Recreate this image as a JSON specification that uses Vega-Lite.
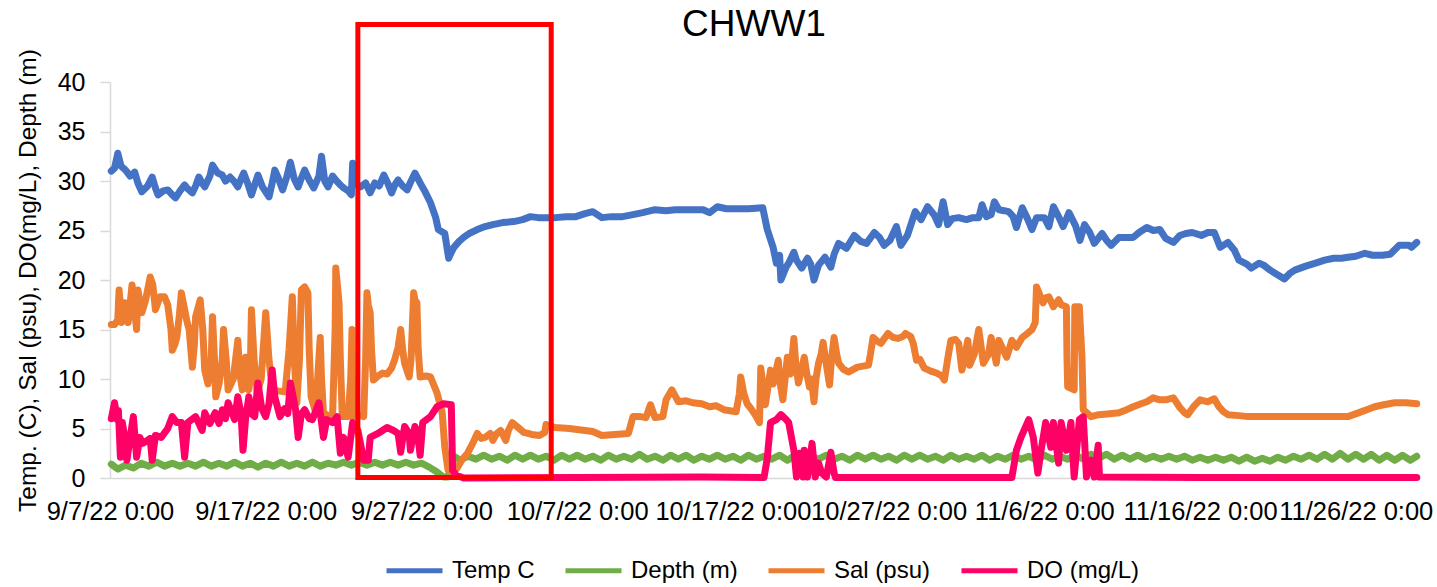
{
"$schema": "https://vega.github.io/schema/vega-lite/v6.json",
"width": 1310,
"height": 396,
"autosize": {"type": "none"},
"padding": {"left": 110, "top": 82, "right": 17, "bottom": 109},
"background": "white",
"config": {"view": {"stroke": null}, "font": "Liberation Sans"},
"title": {"text": "CHWW1", "fontSize": 37, "font": "Liberation Sans", "fontWeight": "normal", "color": "#000000", "anchor": "middle", "frame": "group", "baseline": "alphabetic", "offset": -51, "dx": -11},
"datasets": {
"temp": [
{"t":"2022-09-07T02:00","v":31.0},{"t":"2022-09-07T07:00","v":31.3},{"t":"2022-09-07T12:00","v":32.8},{"t":"2022-09-07T17:00","v":31.5},{"t":"2022-09-08T00:00","v":31.1},{"t":"2022-09-08T07:00","v":30.5},{"t":"2022-09-08T14:00","v":30.9},{"t":"2022-09-08T19:00","v":29.8},{"t":"2022-09-09T01:00","v":28.9},{"t":"2022-09-09T10:00","v":29.5},{"t":"2022-09-09T17:00","v":30.4},{"t":"2022-09-09T22:00","v":29.3},{"t":"2022-09-10T02:00","v":28.6},{"t":"2022-09-10T10:00","v":29.0},{"t":"2022-09-10T17:00","v":29.1},{"t":"2022-09-11T00:00","v":28.6},{"t":"2022-09-11T05:00","v":28.3},{"t":"2022-09-11T12:00","v":29.0},{"t":"2022-09-11T19:00","v":29.6},{"t":"2022-09-12T00:00","v":29.2},{"t":"2022-09-12T07:00","v":28.8},{"t":"2022-09-12T12:00","v":29.5},{"t":"2022-09-12T17:00","v":30.4},{"t":"2022-09-12T22:00","v":29.8},{"t":"2022-09-13T02:00","v":29.4},{"t":"2022-09-13T10:00","v":30.5},{"t":"2022-09-13T14:00","v":31.6},{"t":"2022-09-13T22:00","v":30.8},{"t":"2022-09-14T05:00","v":30.6},{"t":"2022-09-14T10:00","v":30.0},{"t":"2022-09-14T17:00","v":30.4},{"t":"2022-09-15T00:00","v":29.9},{"t":"2022-09-15T05:00","v":29.4},{"t":"2022-09-15T10:00","v":30.2},{"t":"2022-09-15T14:00","v":30.8},{"t":"2022-09-15T20:00","v":29.8},{"t":"2022-09-16T02:00","v":28.6},{"t":"2022-09-16T07:00","v":29.6},{"t":"2022-09-16T12:00","v":30.6},{"t":"2022-09-16T19:00","v":29.4},{"t":"2022-09-17T05:00","v":28.4},{"t":"2022-09-17T10:00","v":29.8},{"t":"2022-09-17T14:00","v":31.1},{"t":"2022-09-17T20:00","v":30.2},{"t":"2022-09-18T02:00","v":29.1},{"t":"2022-09-18T08:00","v":30.3},{"t":"2022-09-18T14:00","v":31.9},{"t":"2022-09-18T20:00","v":30.2},{"t":"2022-09-19T02:00","v":29.4},{"t":"2022-09-19T07:00","v":30.3},{"t":"2022-09-19T12:00","v":31.1},{"t":"2022-09-19T19:00","v":30.1},{"t":"2022-09-20T02:00","v":29.3},{"t":"2022-09-20T10:00","v":30.5},{"t":"2022-09-20T14:00","v":32.5},{"t":"2022-09-20T19:00","v":30.0},{"t":"2022-09-21T00:00","v":29.4},{"t":"2022-09-21T07:00","v":30.5},{"t":"2022-09-21T12:00","v":30.1},{"t":"2022-09-21T19:00","v":29.6},{"t":"2022-09-22T00:00","v":29.3},{"t":"2022-09-22T07:00","v":29.0},{"t":"2022-09-22T12:00","v":28.6},{"t":"2022-09-22T14:00","v":31.8},{"t":"2022-09-22T17:00","v":29.8},{"t":"2022-09-23T02:00","v":29.4},{"t":"2022-09-23T10:00","v":29.8},{"t":"2022-09-23T17:00","v":28.8},{"t":"2022-09-24T00:00","v":29.8},{"t":"2022-09-24T07:00","v":29.5},{"t":"2022-09-24T14:00","v":30.6},{"t":"2022-09-24T20:00","v":29.8},{"t":"2022-09-25T02:00","v":28.8},{"t":"2022-09-25T07:00","v":29.6},{"t":"2022-09-25T12:00","v":30.1},{"t":"2022-09-25T19:00","v":29.5},{"t":"2022-09-26T02:00","v":29.1},{"t":"2022-09-26T08:00","v":30.0},{"t":"2022-09-26T14:00","v":30.8},{"t":"2022-09-26T22:00","v":29.8},{"t":"2022-09-27T05:00","v":29.0},{"t":"2022-09-27T14:00","v":27.8},{"t":"2022-09-27T22:00","v":26.3},{"t":"2022-09-28T02:00","v":25.1},{"t":"2022-09-28T12:00","v":24.7},{"t":"2022-09-28T16:00","v":23.0},{"t":"2022-09-28T18:00","v":22.2},{"t":"2022-09-28T22:00","v":22.8},{"t":"2022-09-29T02:00","v":23.3},{"t":"2022-09-29T10:00","v":23.9},{"t":"2022-09-29T17:00","v":24.3},{"t":"2022-09-30T02:00","v":24.7},{"t":"2022-09-30T14:00","v":25.1},{"t":"2022-10-01T02:00","v":25.4},{"t":"2022-10-01T14:00","v":25.6},{"t":"2022-10-02T05:00","v":25.8},{"t":"2022-10-02T22:00","v":25.9},{"t":"2022-10-03T12:00","v":26.1},{"t":"2022-10-04T00:00","v":26.4},{"t":"2022-10-04T12:00","v":26.3},{"t":"2022-10-05T14:00","v":26.3},{"t":"2022-10-06T07:00","v":26.4},{"t":"2022-10-06T22:00","v":26.4},{"t":"2022-10-07T12:00","v":26.7},{"t":"2022-10-08T00:00","v":26.9},{"t":"2022-10-08T14:00","v":26.3},{"t":"2022-10-09T05:00","v":26.4},{"t":"2022-10-09T22:00","v":26.4},{"t":"2022-10-10T14:00","v":26.6},{"t":"2022-10-11T05:00","v":26.8},{"t":"2022-10-12T00:00","v":27.1},{"t":"2022-10-12T17:00","v":27.0},{"t":"2022-10-13T07:00","v":27.1},{"t":"2022-10-14T05:00","v":27.1},{"t":"2022-10-15T02:00","v":27.1},{"t":"2022-10-15T12:00","v":26.8},{"t":"2022-10-16T00:00","v":27.4},{"t":"2022-10-16T14:00","v":27.2},{"t":"2022-10-17T05:00","v":27.2},{"t":"2022-10-18T00:00","v":27.2},{"t":"2022-10-18T22:00","v":27.3},{"t":"2022-10-19T05:00","v":25.1},{"t":"2022-10-19T14:00","v":23.3},{"t":"2022-10-19T19:00","v":21.7},{"t":"2022-10-20T00:00","v":22.5},{"t":"2022-10-20T02:00","v":20.0},{"t":"2022-10-20T10:00","v":21.3},{"t":"2022-10-20T14:00","v":21.7},{"t":"2022-10-20T22:00","v":22.8},{"t":"2022-10-21T02:00","v":22.0},{"t":"2022-10-21T10:00","v":21.2},{"t":"2022-10-21T19:00","v":22.2},{"t":"2022-10-22T00:00","v":21.6},{"t":"2022-10-22T05:00","v":20.0},{"t":"2022-10-22T12:00","v":21.5},{"t":"2022-10-22T22:00","v":22.3},{"t":"2022-10-23T07:00","v":21.3},{"t":"2022-10-23T12:00","v":22.6},{"t":"2022-10-23T19:00","v":23.7},{"t":"2022-10-24T07:00","v":23.2},{"t":"2022-10-24T19:00","v":24.5},{"t":"2022-10-25T05:00","v":23.9},{"t":"2022-10-25T14:00","v":23.7},{"t":"2022-10-26T02:00","v":24.8},{"t":"2022-10-26T10:00","v":24.3},{"t":"2022-10-26T17:00","v":23.5},{"t":"2022-10-27T02:00","v":24.0},{"t":"2022-10-27T12:00","v":25.4},{"t":"2022-10-27T19:00","v":23.5},{"t":"2022-10-28T05:00","v":24.5},{"t":"2022-10-28T17:00","v":26.9},{"t":"2022-10-29T02:00","v":26.1},{"t":"2022-10-29T12:00","v":27.4},{"t":"2022-10-29T22:00","v":26.6},{"t":"2022-10-30T05:00","v":25.6},{"t":"2022-10-30T12:00","v":27.9},{"t":"2022-10-30T19:00","v":25.6},{"t":"2022-10-31T02:00","v":26.2},{"t":"2022-10-31T12:00","v":26.3},{"t":"2022-11-01T00:00","v":26.1},{"t":"2022-11-01T10:00","v":26.3},{"t":"2022-11-01T19:00","v":26.3},{"t":"2022-11-02T00:00","v":27.6},{"t":"2022-11-02T07:00","v":26.4},{"t":"2022-11-02T14:00","v":26.6},{"t":"2022-11-02T19:00","v":27.9},{"t":"2022-11-03T02:00","v":27.1},{"t":"2022-11-03T10:00","v":27.0},{"t":"2022-11-03T17:00","v":26.9},{"t":"2022-11-04T00:00","v":26.4},{"t":"2022-11-04T05:00","v":25.3},{"t":"2022-11-04T14:00","v":27.3},{"t":"2022-11-04T22:00","v":26.2},{"t":"2022-11-05T05:00","v":25.1},{"t":"2022-11-05T12:00","v":26.3},{"t":"2022-11-06T00:00","v":26.3},{"t":"2022-11-06T07:00","v":25.4},{"t":"2022-11-06T14:00","v":27.4},{"t":"2022-11-06T22:00","v":26.4},{"t":"2022-11-07T05:00","v":25.4},{"t":"2022-11-07T14:00","v":26.8},{"t":"2022-11-08T00:00","v":25.5},{"t":"2022-11-08T07:00","v":24.0},{"t":"2022-11-08T14:00","v":25.6},{"t":"2022-11-08T22:00","v":24.8},{"t":"2022-11-09T05:00","v":23.7},{"t":"2022-11-09T17:00","v":24.7},{"t":"2022-11-10T00:00","v":24.0},{"t":"2022-11-10T07:00","v":23.5},{"t":"2022-11-10T19:00","v":24.3},{"t":"2022-11-11T05:00","v":24.3},{"t":"2022-11-11T17:00","v":24.3},{"t":"2022-11-12T02:00","v":24.8},{"t":"2022-11-12T14:00","v":25.3},{"t":"2022-11-13T00:00","v":25.0},{"t":"2022-11-13T10:00","v":25.1},{"t":"2022-11-13T19:00","v":24.2},{"t":"2022-11-14T07:00","v":23.8},{"t":"2022-11-14T17:00","v":24.5},{"t":"2022-11-15T02:00","v":24.7},{"t":"2022-11-15T12:00","v":24.8},{"t":"2022-11-16T02:00","v":24.5},{"t":"2022-11-16T12:00","v":24.8},{"t":"2022-11-16T22:00","v":24.8},{"t":"2022-11-17T07:00","v":23.3},{"t":"2022-11-17T19:00","v":23.8},{"t":"2022-11-18T05:00","v":23.0},{"t":"2022-11-18T12:00","v":22.0},{"t":"2022-11-19T00:00","v":21.6},{"t":"2022-11-19T07:00","v":21.2},{"t":"2022-11-19T19:00","v":21.7},{"t":"2022-11-20T02:00","v":21.5},{"t":"2022-11-20T12:00","v":21.0},{"t":"2022-11-21T00:00","v":20.5},{"t":"2022-11-21T10:00","v":20.1},{"t":"2022-11-21T19:00","v":20.7},{"t":"2022-11-22T02:00","v":21.0},{"t":"2022-11-22T19:00","v":21.4},{"t":"2022-11-23T10:00","v":21.7},{"t":"2022-11-24T00:00","v":22.0},{"t":"2022-11-24T14:00","v":22.2},{"t":"2022-11-25T02:00","v":22.2},{"t":"2022-11-25T12:00","v":22.3},{"t":"2022-11-26T00:00","v":22.4},{"t":"2022-11-26T14:00","v":22.7},{"t":"2022-11-27T02:00","v":22.5},{"t":"2022-11-27T17:00","v":22.5},{"t":"2022-11-28T05:00","v":22.6},{"t":"2022-11-28T19:00","v":23.5},{"t":"2022-11-29T10:00","v":23.5},{"t":"2022-11-29T14:00","v":23.3},{"t":"2022-11-29T22:00","v":23.8}
],
"depth": [
{"t":"2022-09-07T02:00","v":1.4},{"t":"2022-09-07T12:00","v":0.9},{"t":"2022-09-08T00:00","v":1.3},{"t":"2022-09-08T12:00","v":1.0},{"t":"2022-09-09T00:00","v":1.5},{"t":"2022-09-09T12:00","v":1.2},{"t":"2022-09-10T00:00","v":1.6},{"t":"2022-09-10T12:00","v":1.2},{"t":"2022-09-11T00:00","v":1.5},{"t":"2022-09-11T12:00","v":1.2},{"t":"2022-09-12T00:00","v":1.5},{"t":"2022-09-12T12:00","v":1.2},{"t":"2022-09-13T00:00","v":1.6},{"t":"2022-09-13T12:00","v":1.2},{"t":"2022-09-14T00:00","v":1.5},{"t":"2022-09-14T12:00","v":1.2},{"t":"2022-09-15T00:00","v":1.6},{"t":"2022-09-15T12:00","v":1.2},{"t":"2022-09-16T00:00","v":1.5},{"t":"2022-09-16T12:00","v":1.1},{"t":"2022-09-17T00:00","v":1.5},{"t":"2022-09-17T12:00","v":1.2},{"t":"2022-09-18T00:00","v":1.6},{"t":"2022-09-18T12:00","v":1.2},{"t":"2022-09-19T00:00","v":1.5},{"t":"2022-09-19T12:00","v":1.2},{"t":"2022-09-20T00:00","v":1.6},{"t":"2022-09-20T12:00","v":1.2},{"t":"2022-09-21T00:00","v":1.5},{"t":"2022-09-21T12:00","v":1.3},{"t":"2022-09-22T00:00","v":1.6},{"t":"2022-09-22T12:00","v":1.3},{"t":"2022-09-23T00:00","v":1.6},{"t":"2022-09-23T12:00","v":1.3},{"t":"2022-09-24T00:00","v":1.6},{"t":"2022-09-24T12:00","v":1.3},{"t":"2022-09-25T00:00","v":1.6},{"t":"2022-09-25T12:00","v":1.3},{"t":"2022-09-26T00:00","v":1.6},{"t":"2022-09-26T12:00","v":1.3},{"t":"2022-09-27T00:00","v":1.5},{"t":"2022-09-27T12:00","v":1.1},{"t":"2022-09-28T00:00","v":0.6},{"t":"2022-09-28T10:00","v":0.1},{"t":"2022-09-28T17:00","v":0.1},{"t":"2022-09-29T02:00","v":2.2},{"t":"2022-09-29T12:00","v":1.8},{"t":"2022-09-30T00:00","v":2.2},{"t":"2022-09-30T12:00","v":1.9},{"t":"2022-10-01T00:00","v":2.3},{"t":"2022-10-01T12:00","v":1.9},{"t":"2022-10-02T00:00","v":2.2},{"t":"2022-10-02T12:00","v":1.8},{"t":"2022-10-03T00:00","v":2.3},{"t":"2022-10-03T12:00","v":1.9},{"t":"2022-10-04T00:00","v":2.3},{"t":"2022-10-04T12:00","v":1.9},{"t":"2022-10-05T00:00","v":2.2},{"t":"2022-10-05T12:00","v":1.8},{"t":"2022-10-06T00:00","v":2.3},{"t":"2022-10-06T12:00","v":1.9},{"t":"2022-10-07T00:00","v":2.3},{"t":"2022-10-07T12:00","v":1.9},{"t":"2022-10-08T00:00","v":2.2},{"t":"2022-10-08T12:00","v":1.8},{"t":"2022-10-09T00:00","v":2.3},{"t":"2022-10-09T12:00","v":1.9},{"t":"2022-10-10T00:00","v":2.2},{"t":"2022-10-10T12:00","v":1.9},{"t":"2022-10-11T00:00","v":2.4},{"t":"2022-10-11T12:00","v":1.9},{"t":"2022-10-12T00:00","v":2.2},{"t":"2022-10-12T12:00","v":1.8},{"t":"2022-10-13T00:00","v":2.3},{"t":"2022-10-13T12:00","v":1.9},{"t":"2022-10-14T00:00","v":2.3},{"t":"2022-10-14T12:00","v":1.8},{"t":"2022-10-15T00:00","v":2.2},{"t":"2022-10-15T12:00","v":1.9},{"t":"2022-10-16T00:00","v":2.3},{"t":"2022-10-16T12:00","v":1.9},{"t":"2022-10-17T00:00","v":2.2},{"t":"2022-10-17T12:00","v":1.8},{"t":"2022-10-18T00:00","v":2.3},{"t":"2022-10-18T12:00","v":1.9},{"t":"2022-10-19T00:00","v":2.2},{"t":"2022-10-19T12:00","v":1.9},{"t":"2022-10-20T00:00","v":2.3},{"t":"2022-10-20T12:00","v":1.8},{"t":"2022-10-21T00:00","v":2.3},{"t":"2022-10-21T12:00","v":1.9},{"t":"2022-10-22T00:00","v":2.2},{"t":"2022-10-22T12:00","v":1.9},{"t":"2022-10-23T00:00","v":2.3},{"t":"2022-10-23T12:00","v":1.9},{"t":"2022-10-24T00:00","v":2.2},{"t":"2022-10-24T12:00","v":1.8},{"t":"2022-10-25T00:00","v":2.3},{"t":"2022-10-25T12:00","v":1.9},{"t":"2022-10-26T00:00","v":2.3},{"t":"2022-10-26T12:00","v":1.9},{"t":"2022-10-27T00:00","v":2.2},{"t":"2022-10-27T12:00","v":1.8},{"t":"2022-10-28T00:00","v":2.3},{"t":"2022-10-28T12:00","v":1.9},{"t":"2022-10-29T00:00","v":2.3},{"t":"2022-10-29T12:00","v":1.9},{"t":"2022-10-30T00:00","v":2.2},{"t":"2022-10-30T12:00","v":1.8},{"t":"2022-10-31T00:00","v":2.3},{"t":"2022-10-31T12:00","v":1.9},{"t":"2022-11-01T00:00","v":2.2},{"t":"2022-11-01T12:00","v":1.9},{"t":"2022-11-02T00:00","v":2.3},{"t":"2022-11-02T12:00","v":1.8},{"t":"2022-11-03T00:00","v":2.2},{"t":"2022-11-03T12:00","v":1.9},{"t":"2022-11-04T00:00","v":2.3},{"t":"2022-11-04T12:00","v":1.9},{"t":"2022-11-05T00:00","v":2.2},{"t":"2022-11-05T12:00","v":1.8},{"t":"2022-11-06T00:00","v":2.3},{"t":"2022-11-06T12:00","v":1.9},{"t":"2022-11-07T00:00","v":2.2},{"t":"2022-11-07T12:00","v":1.9},{"t":"2022-11-08T00:00","v":2.3},{"t":"2022-11-08T12:00","v":1.9},{"t":"2022-11-09T00:00","v":2.4},{"t":"2022-11-09T12:00","v":2.0},{"t":"2022-11-10T00:00","v":2.4},{"t":"2022-11-10T12:00","v":1.9},{"t":"2022-11-11T00:00","v":2.3},{"t":"2022-11-11T12:00","v":1.9},{"t":"2022-11-12T00:00","v":2.3},{"t":"2022-11-12T12:00","v":1.9},{"t":"2022-11-13T00:00","v":2.2},{"t":"2022-11-13T12:00","v":1.9},{"t":"2022-11-14T00:00","v":2.2},{"t":"2022-11-14T12:00","v":1.9},{"t":"2022-11-15T00:00","v":2.2},{"t":"2022-11-15T12:00","v":1.8},{"t":"2022-11-16T00:00","v":2.1},{"t":"2022-11-16T12:00","v":1.8},{"t":"2022-11-17T00:00","v":2.1},{"t":"2022-11-17T12:00","v":1.8},{"t":"2022-11-18T00:00","v":2.1},{"t":"2022-11-18T12:00","v":1.7},{"t":"2022-11-19T00:00","v":2.1},{"t":"2022-11-19T12:00","v":1.7},{"t":"2022-11-20T00:00","v":2.0},{"t":"2022-11-20T12:00","v":1.7},{"t":"2022-11-21T00:00","v":2.1},{"t":"2022-11-21T12:00","v":1.8},{"t":"2022-11-22T00:00","v":2.2},{"t":"2022-11-22T12:00","v":1.9},{"t":"2022-11-23T00:00","v":2.3},{"t":"2022-11-23T12:00","v":1.9},{"t":"2022-11-24T00:00","v":2.4},{"t":"2022-11-24T12:00","v":1.9},{"t":"2022-11-25T00:00","v":2.5},{"t":"2022-11-25T12:00","v":1.9},{"t":"2022-11-26T00:00","v":2.4},{"t":"2022-11-26T12:00","v":1.9},{"t":"2022-11-27T00:00","v":2.4},{"t":"2022-11-27T12:00","v":1.8},{"t":"2022-11-28T00:00","v":2.3},{"t":"2022-11-28T12:00","v":1.8},{"t":"2022-11-29T00:00","v":2.3},{"t":"2022-11-29T12:00","v":1.8},{"t":"2022-11-29T22:00","v":2.2}
],
"sal": [
{"t":"2022-09-07T02:00","v":15.5},{"t":"2022-09-07T07:00","v":15.5},{"t":"2022-09-07T12:00","v":16.0},{"t":"2022-09-07T14:00","v":19.0},{"t":"2022-09-07T18:00","v":15.7},{"t":"2022-09-07T23:00","v":17.7},{"t":"2022-09-08T04:00","v":15.7},{"t":"2022-09-08T10:00","v":19.5},{"t":"2022-09-08T13:00","v":17.5},{"t":"2022-09-08T17:00","v":15.0},{"t":"2022-09-08T19:00","v":19.0},{"t":"2022-09-09T01:00","v":16.7},{"t":"2022-09-09T07:00","v":18.0},{"t":"2022-09-09T14:00","v":20.3},{"t":"2022-09-09T18:00","v":19.5},{"t":"2022-09-09T22:00","v":17.0},{"t":"2022-09-10T05:00","v":18.3},{"t":"2022-09-10T12:00","v":18.3},{"t":"2022-09-10T17:00","v":17.5},{"t":"2022-09-10T22:00","v":15.0},{"t":"2022-09-11T00:00","v":12.9},{"t":"2022-09-11T04:00","v":13.5},{"t":"2022-09-11T07:00","v":14.2},{"t":"2022-09-11T11:00","v":16.5},{"t":"2022-09-11T14:00","v":18.7},{"t":"2022-09-11T19:00","v":17.0},{"t":"2022-09-11T23:00","v":15.7},{"t":"2022-09-12T02:00","v":15.0},{"t":"2022-09-12T07:00","v":11.2},{"t":"2022-09-12T10:00","v":13.5},{"t":"2022-09-12T12:00","v":16.3},{"t":"2022-09-12T19:00","v":18.0},{"t":"2022-09-12T23:00","v":15.0},{"t":"2022-09-13T02:00","v":10.9},{"t":"2022-09-13T07:00","v":9.5},{"t":"2022-09-13T12:00","v":12.0},{"t":"2022-09-13T14:00","v":16.3},{"t":"2022-09-13T17:00","v":12.0},{"t":"2022-09-13T19:00","v":8.2},{"t":"2022-09-14T00:00","v":9.5},{"t":"2022-09-14T05:00","v":12.0},{"t":"2022-09-14T07:00","v":15.0},{"t":"2022-09-14T11:00","v":12.0},{"t":"2022-09-14T14:00","v":8.9},{"t":"2022-09-14T22:00","v":10.0},{"t":"2022-09-15T05:00","v":13.9},{"t":"2022-09-15T08:00","v":10.5},{"t":"2022-09-15T12:00","v":8.9},{"t":"2022-09-15T17:00","v":12.2},{"t":"2022-09-15T22:00","v":8.9},{"t":"2022-09-16T00:00","v":10.0},{"t":"2022-09-16T02:00","v":17.0},{"t":"2022-09-16T06:00","v":12.0},{"t":"2022-09-16T11:00","v":8.6},{"t":"2022-09-16T17:00","v":10.0},{"t":"2022-09-17T00:00","v":16.7},{"t":"2022-09-17T05:00","v":12.0},{"t":"2022-09-17T10:00","v":8.9},{"t":"2022-09-17T19:00","v":8.8},{"t":"2022-09-18T06:00","v":8.7},{"t":"2022-09-18T12:00","v":13.0},{"t":"2022-09-18T17:00","v":18.3},{"t":"2022-09-18T20:00","v":12.0},{"t":"2022-09-19T00:00","v":7.6},{"t":"2022-09-19T04:00","v":12.0},{"t":"2022-09-19T07:00","v":19.0},{"t":"2022-09-19T12:00","v":19.3},{"t":"2022-09-19T17:00","v":18.7},{"t":"2022-09-19T19:00","v":13.0},{"t":"2022-09-19T22:00","v":8.2},{"t":"2022-09-20T05:00","v":6.6},{"t":"2022-09-20T08:00","v":10.0},{"t":"2022-09-20T12:00","v":14.2},{"t":"2022-09-20T14:00","v":10.0},{"t":"2022-09-20T17:00","v":6.6},{"t":"2022-09-21T00:00","v":6.3},{"t":"2022-09-21T07:00","v":6.2},{"t":"2022-09-21T11:00","v":15.0},{"t":"2022-09-21T12:00","v":21.2},{"t":"2022-09-21T17:00","v":17.7},{"t":"2022-09-21T19:00","v":12.0},{"t":"2022-09-21T22:00","v":6.2},{"t":"2022-09-22T07:00","v":6.2},{"t":"2022-09-22T11:00","v":10.0},{"t":"2022-09-22T13:00","v":15.0},{"t":"2022-09-22T14:00","v":6.2},{"t":"2022-09-23T00:00","v":6.3},{"t":"2022-09-23T07:00","v":6.2},{"t":"2022-09-23T10:00","v":12.0},{"t":"2022-09-23T12:00","v":18.7},{"t":"2022-09-23T14:00","v":17.5},{"t":"2022-09-23T17:00","v":16.7},{"t":"2022-09-23T19:00","v":13.0},{"t":"2022-09-23T22:00","v":9.9},{"t":"2022-09-24T05:00","v":10.3},{"t":"2022-09-24T12:00","v":10.6},{"t":"2022-09-24T19:00","v":10.5},{"t":"2022-09-25T02:00","v":11.1},{"t":"2022-09-25T07:00","v":12.0},{"t":"2022-09-25T12:00","v":13.2},{"t":"2022-09-25T16:00","v":15.0},{"t":"2022-09-25T19:00","v":13.0},{"t":"2022-09-25T22:00","v":11.6},{"t":"2022-09-26T05:00","v":10.2},{"t":"2022-09-26T08:00","v":12.0},{"t":"2022-09-26T12:00","v":18.7},{"t":"2022-09-26T14:00","v":18.0},{"t":"2022-09-26T17:00","v":17.7},{"t":"2022-09-26T19:00","v":13.0},{"t":"2022-09-26T22:00","v":10.2},{"t":"2022-09-27T07:00","v":10.3},{"t":"2022-09-27T14:00","v":10.2},{"t":"2022-09-28T00:00","v":8.6},{"t":"2022-09-28T08:00","v":6.6},{"t":"2022-09-28T12:00","v":3.1},{"t":"2022-09-28T17:00","v":0.8},{"t":"2022-09-29T00:00","v":0.6},{"t":"2022-09-29T07:00","v":1.0},{"t":"2022-09-29T14:00","v":1.8},{"t":"2022-09-29T23:00","v":2.5},{"t":"2022-09-30T07:00","v":3.5},{"t":"2022-09-30T14:00","v":4.5},{"t":"2022-09-30T20:00","v":4.0},{"t":"2022-10-01T02:00","v":4.1},{"t":"2022-10-01T10:00","v":4.5},{"t":"2022-10-01T14:00","v":3.8},{"t":"2022-10-01T20:00","v":4.5},{"t":"2022-10-02T02:00","v":4.8},{"t":"2022-10-02T10:00","v":3.8},{"t":"2022-10-02T14:00","v":4.8},{"t":"2022-10-02T20:00","v":5.6},{"t":"2022-10-03T05:00","v":5.1},{"t":"2022-10-03T14:00","v":4.6},{"t":"2022-10-04T02:00","v":4.4},{"t":"2022-10-04T14:00","v":4.3},{"t":"2022-10-04T22:00","v":4.6},{"t":"2022-10-05T00:00","v":5.4},{"t":"2022-10-05T07:00","v":5.2},{"t":"2022-10-05T14:00","v":5.1},{"t":"2022-10-06T12:00","v":5.0},{"t":"2022-10-07T12:00","v":4.8},{"t":"2022-10-08T00:00","v":4.7},{"t":"2022-10-08T14:00","v":4.3},{"t":"2022-10-09T10:00","v":4.4},{"t":"2022-10-10T07:00","v":4.5},{"t":"2022-10-10T14:00","v":6.2},{"t":"2022-10-11T02:00","v":6.2},{"t":"2022-10-11T10:00","v":6.1},{"t":"2022-10-11T17:00","v":7.4},{"t":"2022-10-12T00:00","v":6.1},{"t":"2022-10-12T12:00","v":6.2},{"t":"2022-10-12T17:00","v":7.9},{"t":"2022-10-13T02:00","v":8.9},{"t":"2022-10-13T12:00","v":7.7},{"t":"2022-10-14T00:00","v":7.8},{"t":"2022-10-14T10:00","v":7.6},{"t":"2022-10-15T00:00","v":7.5},{"t":"2022-10-15T12:00","v":7.2},{"t":"2022-10-15T22:00","v":7.3},{"t":"2022-10-16T10:00","v":6.9},{"t":"2022-10-17T05:00","v":6.7},{"t":"2022-10-17T10:00","v":8.5},{"t":"2022-10-17T12:00","v":10.2},{"t":"2022-10-17T17:00","v":8.5},{"t":"2022-10-17T22:00","v":7.5},{"t":"2022-10-18T05:00","v":6.9},{"t":"2022-10-18T12:00","v":6.2},{"t":"2022-10-18T17:00","v":5.6},{"t":"2022-10-18T19:00","v":11.1},{"t":"2022-10-18T23:00","v":9.0},{"t":"2022-10-19T02:00","v":7.4},{"t":"2022-10-19T10:00","v":10.9},{"t":"2022-10-19T14:00","v":9.5},{"t":"2022-10-19T22:00","v":11.9},{"t":"2022-10-20T01:00","v":9.5},{"t":"2022-10-20T05:00","v":7.9},{"t":"2022-10-20T12:00","v":12.2},{"t":"2022-10-20T17:00","v":10.5},{"t":"2022-10-20T22:00","v":14.1},{"t":"2022-10-21T01:00","v":11.5},{"t":"2022-10-21T05:00","v":9.6},{"t":"2022-10-21T10:00","v":11.0},{"t":"2022-10-21T14:00","v":12.2},{"t":"2022-10-21T18:00","v":10.5},{"t":"2022-10-21T22:00","v":9.2},{"t":"2022-10-22T01:00","v":10.0},{"t":"2022-10-22T05:00","v":7.7},{"t":"2022-10-22T08:00","v":10.0},{"t":"2022-10-22T12:00","v":11.6},{"t":"2022-10-22T16:00","v":12.5},{"t":"2022-10-22T19:00","v":13.7},{"t":"2022-10-23T00:00","v":11.5},{"t":"2022-10-23T05:00","v":9.4},{"t":"2022-10-23T08:00","v":12.0},{"t":"2022-10-23T12:00","v":14.2},{"t":"2022-10-23T16:00","v":12.5},{"t":"2022-10-23T19:00","v":11.6},{"t":"2022-10-24T02:00","v":11.0},{"t":"2022-10-24T10:00","v":10.7},{"t":"2022-10-25T00:00","v":11.2},{"t":"2022-10-25T17:00","v":11.4},{"t":"2022-10-25T20:00","v":12.5},{"t":"2022-10-26T00:00","v":14.2},{"t":"2022-10-26T07:00","v":13.8},{"t":"2022-10-26T12:00","v":13.6},{"t":"2022-10-26T23:00","v":14.6},{"t":"2022-10-27T07:00","v":14.2},{"t":"2022-10-27T14:00","v":14.1},{"t":"2022-10-27T22:00","v":14.3},{"t":"2022-10-28T02:00","v":14.6},{"t":"2022-10-28T10:00","v":14.3},{"t":"2022-10-28T14:00","v":13.6},{"t":"2022-10-28T19:00","v":11.9},{"t":"2022-10-29T00:00","v":12.0},{"t":"2022-10-29T07:00","v":11.1},{"t":"2022-10-29T17:00","v":10.8},{"t":"2022-10-30T02:00","v":10.6},{"t":"2022-10-30T10:00","v":10.3},{"t":"2022-10-30T14:00","v":9.9},{"t":"2022-10-30T19:00","v":12.0},{"t":"2022-10-31T00:00","v":13.9},{"t":"2022-10-31T07:00","v":14.0},{"t":"2022-10-31T12:00","v":13.6},{"t":"2022-10-31T17:00","v":10.9},{"t":"2022-10-31T22:00","v":12.5},{"t":"2022-11-01T02:00","v":13.9},{"t":"2022-11-01T05:00","v":11.4},{"t":"2022-11-01T12:00","v":12.5},{"t":"2022-11-01T19:00","v":15.0},{"t":"2022-11-02T02:00","v":11.6},{"t":"2022-11-02T10:00","v":12.5},{"t":"2022-11-02T14:00","v":14.2},{"t":"2022-11-02T22:00","v":11.6},{"t":"2022-11-03T02:00","v":13.9},{"t":"2022-11-03T14:00","v":12.2},{"t":"2022-11-03T22:00","v":13.9},{"t":"2022-11-04T05:00","v":13.2},{"t":"2022-11-04T14:00","v":14.2},{"t":"2022-11-04T22:00","v":14.6},{"t":"2022-11-05T05:00","v":15.0},{"t":"2022-11-05T10:00","v":15.7},{"t":"2022-11-05T12:00","v":19.3},{"t":"2022-11-05T17:00","v":18.5},{"t":"2022-11-05T22:00","v":17.7},{"t":"2022-11-06T02:00","v":18.2},{"t":"2022-11-06T07:00","v":18.3},{"t":"2022-11-06T14:00","v":17.3},{"t":"2022-11-06T22:00","v":18.0},{"t":"2022-11-07T02:00","v":17.5},{"t":"2022-11-07T10:00","v":17.3},{"t":"2022-11-07T11:00","v":12.0},{"t":"2022-11-07T12:00","v":9.2},{"t":"2022-11-07T22:00","v":8.9},{"t":"2022-11-07T23:00","v":17.3},{"t":"2022-11-08T06:00","v":17.3},{"t":"2022-11-08T10:00","v":12.2},{"t":"2022-11-08T12:00","v":6.9},{"t":"2022-11-09T00:00","v":6.2},{"t":"2022-11-09T12:00","v":6.4},{"t":"2022-11-10T05:00","v":6.5},{"t":"2022-11-10T19:00","v":6.6},{"t":"2022-11-11T07:00","v":6.9},{"t":"2022-11-11T17:00","v":7.2},{"t":"2022-11-12T05:00","v":7.5},{"t":"2022-11-12T14:00","v":7.7},{"t":"2022-11-13T00:00","v":8.1},{"t":"2022-11-13T10:00","v":7.9},{"t":"2022-11-13T19:00","v":7.9},{"t":"2022-11-14T07:00","v":8.1},{"t":"2022-11-14T12:00","v":7.6},{"t":"2022-11-14T17:00","v":7.1},{"t":"2022-11-15T00:00","v":6.6},{"t":"2022-11-15T05:00","v":6.4},{"t":"2022-11-15T14:00","v":7.2},{"t":"2022-11-16T00:00","v":7.9},{"t":"2022-11-16T12:00","v":7.7},{"t":"2022-11-16T22:00","v":8.0},{"t":"2022-11-17T05:00","v":7.2},{"t":"2022-11-17T12:00","v":6.7},{"t":"2022-11-17T19:00","v":6.4},{"t":"2022-11-18T12:00","v":6.3},{"t":"2022-11-19T02:00","v":6.2},{"t":"2022-11-20T00:00","v":6.2},{"t":"2022-11-21T05:00","v":6.2},{"t":"2022-11-22T12:00","v":6.2},{"t":"2022-11-24T00:00","v":6.2},{"t":"2022-11-25T12:00","v":6.2},{"t":"2022-11-26T05:00","v":6.6},{"t":"2022-11-26T17:00","v":6.9},{"t":"2022-11-27T05:00","v":7.2},{"t":"2022-11-27T19:00","v":7.4},{"t":"2022-11-28T12:00","v":7.6},{"t":"2022-11-29T05:00","v":7.6},{"t":"2022-11-29T22:00","v":7.5}
],
"do": [
{"t":"2022-09-07T02:00","v":6.0},{"t":"2022-09-07T07:00","v":7.6},{"t":"2022-09-07T11:00","v":5.9},{"t":"2022-09-07T13:00","v":6.8},{"t":"2022-09-07T16:00","v":2.1},{"t":"2022-09-07T19:00","v":5.6},{"t":"2022-09-07T23:00","v":4.0},{"t":"2022-09-08T02:00","v":1.8},{"t":"2022-09-08T07:00","v":4.1},{"t":"2022-09-08T12:00","v":6.2},{"t":"2022-09-08T17:00","v":2.1},{"t":"2022-09-08T22:00","v":4.1},{"t":"2022-09-09T02:00","v":3.5},{"t":"2022-09-09T10:00","v":3.8},{"t":"2022-09-09T14:00","v":4.0},{"t":"2022-09-09T17:00","v":1.8},{"t":"2022-09-09T22:00","v":4.3},{"t":"2022-09-10T07:00","v":4.1},{"t":"2022-09-10T17:00","v":5.0},{"t":"2022-09-11T00:00","v":6.2},{"t":"2022-09-11T07:00","v":5.6},{"t":"2022-09-11T14:00","v":5.6},{"t":"2022-09-11T19:00","v":2.1},{"t":"2022-09-12T00:00","v":5.6},{"t":"2022-09-12T12:00","v":6.2},{"t":"2022-09-12T22:00","v":4.8},{"t":"2022-09-13T02:00","v":6.6},{"t":"2022-09-13T10:00","v":5.5},{"t":"2022-09-13T18:00","v":6.6},{"t":"2022-09-14T00:00","v":5.5},{"t":"2022-09-14T05:00","v":6.9},{"t":"2022-09-14T10:00","v":6.0},{"t":"2022-09-14T14:00","v":7.6},{"t":"2022-09-15T00:00","v":5.9},{"t":"2022-09-15T05:00","v":8.2},{"t":"2022-09-15T10:00","v":6.5},{"t":"2022-09-15T13:00","v":2.8},{"t":"2022-09-15T17:00","v":6.0},{"t":"2022-09-15T22:00","v":8.2},{"t":"2022-09-16T02:00","v":6.5},{"t":"2022-09-16T07:00","v":6.2},{"t":"2022-09-16T12:00","v":9.6},{"t":"2022-09-16T18:00","v":7.0},{"t":"2022-09-17T00:00","v":6.2},{"t":"2022-09-17T05:00","v":7.5},{"t":"2022-09-17T10:00","v":10.9},{"t":"2022-09-17T14:00","v":8.2},{"t":"2022-09-17T22:00","v":6.2},{"t":"2022-09-18T05:00","v":7.0},{"t":"2022-09-18T10:00","v":6.5},{"t":"2022-09-18T14:00","v":9.6},{"t":"2022-09-18T22:00","v":6.9},{"t":"2022-09-19T02:00","v":4.1},{"t":"2022-09-19T07:00","v":6.5},{"t":"2022-09-19T12:00","v":6.9},{"t":"2022-09-19T19:00","v":6.0},{"t":"2022-09-20T00:00","v":5.9},{"t":"2022-09-20T10:00","v":7.6},{"t":"2022-09-20T17:00","v":4.1},{"t":"2022-09-20T22:00","v":5.9},{"t":"2022-09-21T07:00","v":5.6},{"t":"2022-09-21T14:00","v":6.2},{"t":"2022-09-21T19:00","v":2.5},{"t":"2022-09-22T00:00","v":4.1},{"t":"2022-09-22T07:00","v":2.1},{"t":"2022-09-22T14:00","v":5.6},{"t":"2022-09-22T22:00","v":4.8},{"t":"2022-09-23T02:00","v":3.5},{"t":"2022-09-23T07:00","v":1.8},{"t":"2022-09-23T14:00","v":1.8},{"t":"2022-09-23T17:00","v":4.1},{"t":"2022-09-24T05:00","v":4.5},{"t":"2022-09-24T19:00","v":5.1},{"t":"2022-09-25T05:00","v":4.8},{"t":"2022-09-25T12:00","v":4.5},{"t":"2022-09-25T16:00","v":2.6},{"t":"2022-09-25T22:00","v":5.2},{"t":"2022-09-26T05:00","v":4.5},{"t":"2022-09-26T07:00","v":2.8},{"t":"2022-09-26T14:00","v":5.2},{"t":"2022-09-26T18:00","v":4.5},{"t":"2022-09-26T22:00","v":2.3},{"t":"2022-09-27T02:00","v":5.6},{"t":"2022-09-27T14:00","v":6.2},{"t":"2022-09-28T00:00","v":7.2},{"t":"2022-09-28T10:00","v":7.5},{"t":"2022-09-28T22:00","v":7.4},{"t":"2022-09-29T00:00","v":0.8},{"t":"2022-09-29T05:00","v":0.3},{"t":"2022-09-29T17:00","v":0.0},{"t":"2022-10-07T00:00","v":0.05},{"t":"2022-10-15T00:00","v":0.1},{"t":"2022-10-19T00:00","v":0.05},{"t":"2022-10-19T05:00","v":2.0},{"t":"2022-10-19T10:00","v":5.6},{"t":"2022-10-19T19:00","v":5.9},{"t":"2022-10-20T02:00","v":6.4},{"t":"2022-10-20T10:00","v":5.9},{"t":"2022-10-20T14:00","v":5.6},{"t":"2022-10-20T22:00","v":2.8},{"t":"2022-10-21T02:00","v":0.1},{"t":"2022-10-21T07:00","v":2.5},{"t":"2022-10-21T12:00","v":0.1},{"t":"2022-10-21T14:00","v":2.8},{"t":"2022-10-21T19:00","v":0.1},{"t":"2022-10-22T02:00","v":3.5},{"t":"2022-10-22T07:00","v":0.1},{"t":"2022-10-22T12:00","v":1.5},{"t":"2022-10-22T17:00","v":0.5},{"t":"2022-10-23T00:00","v":0.1},{"t":"2022-10-23T07:00","v":2.6},{"t":"2022-10-23T12:00","v":0.5},{"t":"2022-10-23T14:00","v":0.05},{"t":"2022-10-27T00:00","v":0.05},{"t":"2022-11-03T22:00","v":0.05},{"t":"2022-11-04T05:00","v":2.8},{"t":"2022-11-04T12:00","v":4.1},{"t":"2022-11-05T00:00","v":5.9},{"t":"2022-11-05T07:00","v":4.1},{"t":"2022-11-05T14:00","v":0.5},{"t":"2022-11-05T19:00","v":2.8},{"t":"2022-11-06T02:00","v":5.6},{"t":"2022-11-06T10:00","v":3.1},{"t":"2022-11-06T14:00","v":5.6},{"t":"2022-11-06T22:00","v":1.5},{"t":"2022-11-07T02:00","v":5.6},{"t":"2022-11-07T10:00","v":2.8},{"t":"2022-11-07T17:00","v":5.6},{"t":"2022-11-07T22:00","v":0.1},{"t":"2022-11-08T06:00","v":5.9},{"t":"2022-11-08T12:00","v":6.2},{"t":"2022-11-08T17:00","v":0.1},{"t":"2022-11-09T00:00","v":1.8},{"t":"2022-11-09T05:00","v":0.1},{"t":"2022-11-09T11:00","v":3.3},{"t":"2022-11-09T13:00","v":0.1},{"t":"2022-11-16T00:00","v":0.05},{"t":"2022-11-29T22:00","v":0.05}
],
"box": [{"t1":"2022-09-22T22:00","t2":"2022-10-05T08:00","y1":0.05,"y2":45.8}]
},
"encoding": {
"x": {"field":"t","type":"temporal",
 "scale":{"domain":[{"year":2022,"month":9,"date":7},{"year":2022,"month":11,"date":30,"hours":3}]},
 "axis":{"title":null,"values":[{"year":2022,"month":9,"date":7},{"year":2022,"month":9,"date":17},{"year":2022,"month":9,"date":27},{"year":2022,"month":10,"date":7},{"year":2022,"month":10,"date":17},{"year":2022,"month":10,"date":27},{"year":2022,"month":11,"date":6},{"year":2022,"month":11,"date":16},{"year":2022,"month":11,"date":26}],
  "format":"%-m/%-d/%y %-H:%M","labelFontSize":25.5,"labelFont":"Liberation Sans","labelColor":"#000000","labelOverlap":false,"labelFlush":false,"labelBound":false,"ticks":false,"tickSize":0,"labelPadding":21,"domainColor":"#D9D9D9","domainWidth":1.5,"grid":false}},
"y": {"field":"v","type":"quantitative",
 "scale":{"domain":[0,40],"nice":false,"zero":false},
 "axis":{"values":[0,5,10,15,20,25,30,35,40],"labelFontSize":25,"labelFont":"Liberation Sans","labelColor":"#000000","tickSize":10,"tickColor":"#D9D9D9","tickWidth":1.5,"domainColor":"#D9D9D9","domainWidth":1.5,"grid":false,"labelPadding":15,"labelFlush":false,
  "title":"Temp. (C), Sal (psu), DO(mg/L), Depth (m)","titleFontSize":24.5,"titleFont":"Liberation Sans","titleFontWeight":"normal","titleColor":"#000000","titleX":-82,"titleY":198,"titleAngle":-90,"titleAlign":"center","titleBaseline":"middle"}}
},
"layer": [
{"data":{"name":"temp"},"mark":{"type":"line","strokeWidth":7,"strokeJoin":"round","strokeCap":"round"},
 "encoding":{"color":{"datum":"Temp C","type":"nominal",
  "scale":{"domain":["Temp C","Depth (m)","Sal (psu)","DO (mg/L)"],"range":["#4472C4","#70AD47","#ED7D31","#FF0066"]},
  "legend":{"orient":"none","legendX":274,"legendY":458,"direction":"horizontal","title":null,"symbolType":"stroke","symbolSize":3136,"symbolStrokeWidth":5,"labelFontSize":24,"labelFont":"Liberation Sans","labelColor":"#000000","columnPadding":20,"labelOffset":7}}}},
{"data":{"name":"depth"},"mark":{"type":"line","strokeWidth":7,"strokeJoin":"round","strokeCap":"round"},
 "encoding":{"color":{"datum":"Depth (m)","type":"nominal"}}},
{"data":{"name":"sal"},"mark":{"type":"line","strokeWidth":7,"strokeJoin":"round","strokeCap":"round"},
 "encoding":{"color":{"datum":"Sal (psu)","type":"nominal"}}},
{"data":{"name":"do"},"mark":{"type":"line","strokeWidth":7,"strokeJoin":"round","strokeCap":"round"},
 "encoding":{"color":{"datum":"DO (mg/L)","type":"nominal"}}},
{"data":{"name":"box"},"mark":{"type":"rect","fill":"transparent","stroke":"#FF0000","strokeWidth":5},
 "encoding":{"x":{"field":"t1","type":"temporal"},"x2":{"field":"t2"},"y":{"field":"y1","type":"quantitative"},"y2":{"field":"y2"}}}
]
}
